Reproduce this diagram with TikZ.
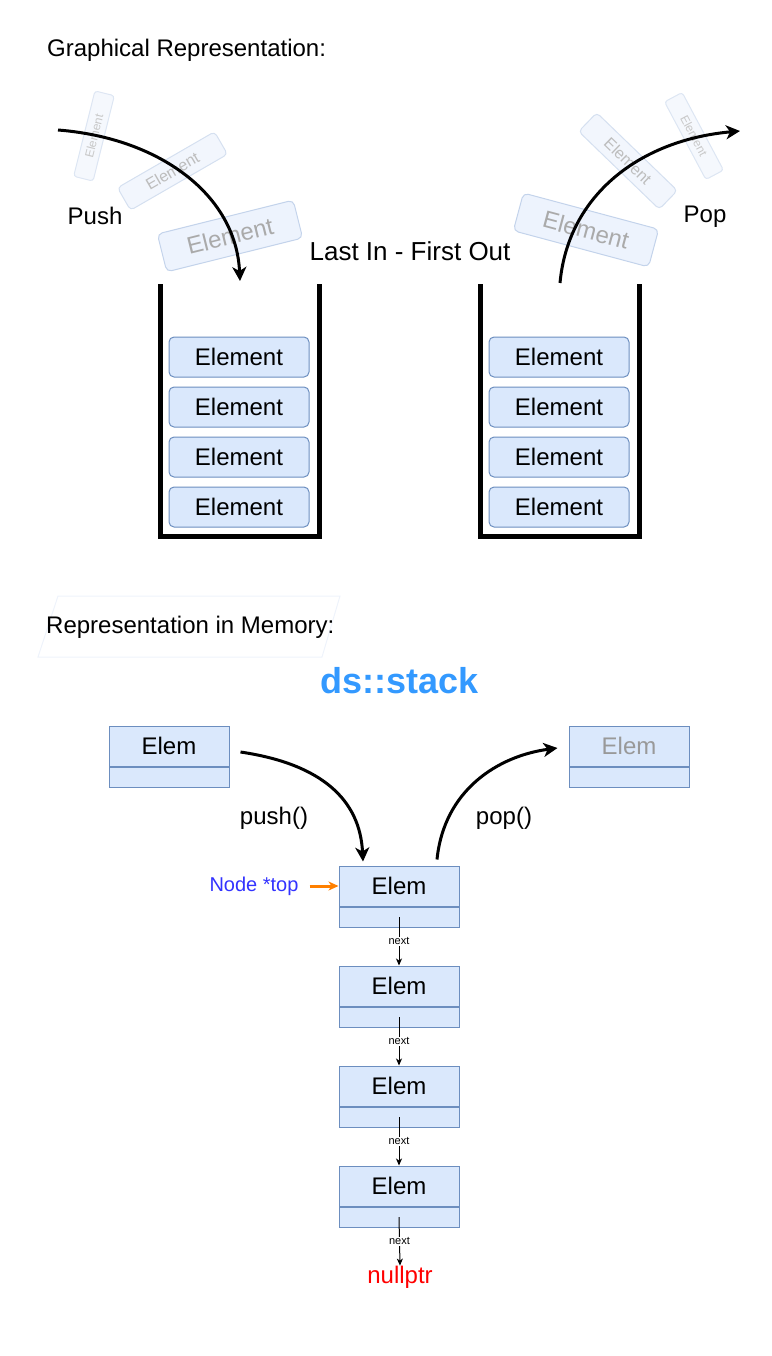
\documentclass[tikz,border=0pt]{standalone}
\usepackage{fontspec}
\setmainfont{Liberation Sans}
\usetikzlibrary{arrows.meta,calc}
\definecolor{elfill}{HTML}{DAE8FC}
\definecolor{eldraw}{HTML}{6C8EBF}
\definecolor{gAf}{HTML}{EDF3FD}
\definecolor{gAd}{HTML}{C3D3EB}
\definecolor{gAt}{HTML}{AAAAAA}
\definecolor{gBf}{HTML}{F2F6FD}
\definecolor{gBd}{HTML}{D5E0F0}
\definecolor{gBt}{HTML}{BDBDBD}
\definecolor{gCf}{HTML}{F5F8FD}
\definecolor{gCd}{HTML}{DDE6F3}
\definecolor{gCt}{HTML}{C8C8C8}
\definecolor{dsblue}{HTML}{3399FF}
\definecolor{topblue}{HTML}{3333FF}
\definecolor{ptrorange}{HTML}{FF8000}
\definecolor{faintline}{HTML}{EEF3FB}
\definecolor{grayelem}{HTML}{999999}
\newcommand\fsz[1]{\fontsize{#1}{#1}\selectfont}
\begin{document}
\begin{tikzpicture}[x=1pt,y=-1pt,
  lbl/.style={inner sep=0pt, font=\fsz{24}},
  stackel/.style={draw=eldraw, fill=elfill, rounded corners=5pt, line width=1pt, minimum width=140pt, minimum height=40pt, inner sep=0pt, font=\fsz{24}},
  ghostA/.style={draw=gAd, fill=gAf, text=gAt, rounded corners=5pt, line width=1pt, minimum width=140pt, minimum height=39pt, inner sep=0pt, font=\fsz{24}},
  ghostB/.style={draw=gBd, fill=gBf, text=gBt, rounded corners=4pt, line width=1pt, minimum width=112pt, minimum height=26pt, inner sep=0pt, font=\fsz{16}},
  ghostC/.style={draw=gCd, fill=gCf, text=gCt, rounded corners=3pt, line width=1pt, minimum width=88pt, minimum height=20pt, inner sep=0pt, font=\fsz{12}},
  memtop/.style={draw=eldraw, fill=elfill, line width=1pt, minimum width=120pt, minimum height=40pt, inner sep=0pt, font=\fsz{24}},
  membot/.style={draw=eldraw, fill=elfill, line width=1pt, minimum width=120pt, minimum height=20pt, inner sep=0pt, anchor=north},
  bigarrow/.style={line width=3pt, -{Stealth[length=14pt,width=14pt,inset=4pt]}},
  nextarrow/.style={line width=1pt, -{Stealth[length=7pt,width=6pt,inset=2pt]}},
  ptrarrow/.style={line width=3pt, draw=ptrorange, -{Stealth[length=10pt,width=9pt,inset=3pt]}},
  nextlbl/.style={fill=white, inner sep=1pt, font=\fsz{11}},
  container/.style={line width=5pt}
]
\useasboundingbox (0,0) rectangle (771,1356);

% ---------- Graphical representation ----------
\node[lbl, anchor=west] (title1) at (47,50) {Graphical Representation:};

% ghost elements (left)
\node[ghostC, rotate=76] (gl1) at (94,136) {Element};
\node[ghostB, rotate=30] (gl2) at (172.5,171) {Element};
\node[ghostA, rotate=14] (gl3) at (230,236) {Element};
% ghost elements (right)
\node[ghostA, rotate=-15] (gr1) at (586,230) {Element};
\node[ghostB, rotate=-44] (gr2) at (628,161) {Element};
\node[ghostC, rotate=-62] (gr3) at (694,136) {Element};

% containers
\draw[container] (160,284) -- (160,536) -- (319.5,536) -- (319.5,284);
\draw[container] (480,284) -- (480,536) -- (639.5,536) -- (639.5,284);

% stack elements
\node[stackel] (l1) at (239,357) {Element};
\node[stackel] (l2) at (239,407) {Element};
\node[stackel] (l3) at (239,457) {Element};
\node[stackel] (l4) at (239,507) {Element};
\node[stackel] (r1) at (559,357) {Element};
\node[stackel] (r2) at (559,407) {Element};
\node[stackel] (r3) at (559,457) {Element};
\node[stackel] (r4) at (559,507) {Element};

% push / pop arrows
\coordinate (pushstart) at (58,130);
\coordinate (pushend) at (240,281);
\coordinate (popstart) at (560,283);
\coordinate (popend) at (740,131);
\draw[bigarrow] (pushstart) .. controls (160,138) and (236,195) .. (pushend);
\draw[bigarrow] (popstart) .. controls (568,195) and (640,140) .. (popend);

\node[lbl] (pushl) at (95,216) {Push};
\node[lbl] (popl) at (705,217) {Pop};
\node[inner sep=0pt, font=\fsz{26}] (lifo) at (410,251) {Last In - First Out};

% ---------- Representation in memory ----------
\draw[faintline, line width=1pt] (58,596) -- (340,596) -- (322,657) -- (38,657) -- cycle;
\node[lbl, anchor=west] (title2) at (46,627) {Representation in Memory:};
\node[inner sep=0pt, font=\bfseries\fsz{36}, text=dsblue] (ds) at (400,681) {ds::stack};

% incoming / outgoing elements
\node[memtop] (in) at (169,746) {Elem};
\node[membot] (inb) at (in.south) {};
\node[memtop, text=grayelem] (out) at (629,746) {Elem};
\node[membot] (outb) at (out.south) {};

% stack nodes
\node[memtop] (s1) at (399,886) {Elem};
\node[membot] (s1b) at (s1.south) {};
\node[memtop] (s2) at (399,986) {Elem};
\node[membot] (s2b) at (s2.south) {};
\node[memtop] (s3) at (399,1086) {Elem};
\node[membot] (s3b) at (s3.south) {};
\node[memtop] (s4) at (399,1186) {Elem};
\node[membot] (s4b) at (s4.south) {};
\node[inner sep=0pt, font=\fsz{24}, text=red] (null) at (400,1277) {nullptr};

\draw[nextarrow] (s1b.center) -- node[nextlbl] {next} (s2.north);
\draw[nextarrow] (s2b.center) -- node[nextlbl] {next} (s3.north);
\draw[nextarrow] (s3b.center) -- node[nextlbl] {next} (s4.north);
\draw[nextarrow] (s4b.center) -- node[nextlbl] {next} (null.north);

% push() / pop()
\draw[bigarrow] ($(in.east)+(11,6)$) .. controls (322,764) and (360,800) .. ($(s1.north)+(-36,-4)$);
\draw[bigarrow] ($(s1.north)+(38,-6)$) .. controls (444,790) and (498,756) .. ($(out.west)+(-11,2)$);
\node[lbl] (pushf) at (274,818) {push()};
\node[lbl] (popf) at (504,818) {pop()};

% top pointer
\node[inner sep=0pt, font=\fsz{20}, text=topblue] (topl) at (254,886) {Node *top};
\draw[ptrarrow] ([xshift=11pt]topl.east) -- (s1.west);
\end{tikzpicture}
\end{document}
